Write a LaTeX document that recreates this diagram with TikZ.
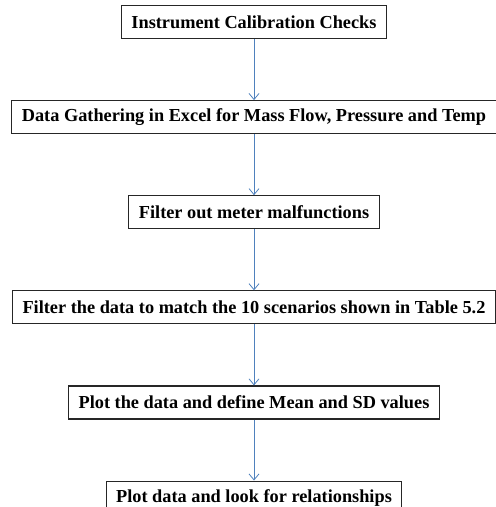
\documentclass[tikz,border=0pt]{standalone}
\usepackage{fontspec}
\setmainfont{Liberation Serif}
\usepackage{tikz}
\usetikzlibrary{positioning,arrows.meta}
\definecolor{flowblue}{HTML}{4F81BD}

\begin{document}
\begin{tikzpicture}[
  x=1bp, y=1bp,
  font=\fontsize{18.3bp}{20bp}\selectfont\bfseries,
  box/.style={draw=black!85, line width=1.1bp, fill=white, align=center, inner xsep=10bp, inner ysep=0pt, minimum height=33bp},
  arr/.style={-{Straight Barb[length=6bp,width=10bp]}, line width=0.8bp, flowblue}
]
\useasboundingbox (0,0) rectangle (496,-507);
\node[box, anchor=north] (calib) at (254,-5) {Instrument Calibration Checks};
\node[box, below=61bp of calib] (gather) {Data Gathering in Excel for Mass Flow, Pressure and Temp};
\node[box, below=61bp of gather] (malf) {Filter out meter malfunctions};
\node[box, below=61bp of malf] (scen) {Filter the data to match the 10 scenarios shown in Table 5.2};
\node[box, below=61bp of scen] (mean) {Plot the data and define Mean and SD values};
\node[box, below=61bp of mean] (rel) {Plot data and look for relationships};
\draw[arr] (calib) -- (gather);
\draw[arr] (gather) -- (malf);
\draw[arr] (malf) -- (scen);
\draw[arr] (scen) -- (mean);
\draw[arr] (mean) -- (rel);
\end{tikzpicture}
\end{document}
